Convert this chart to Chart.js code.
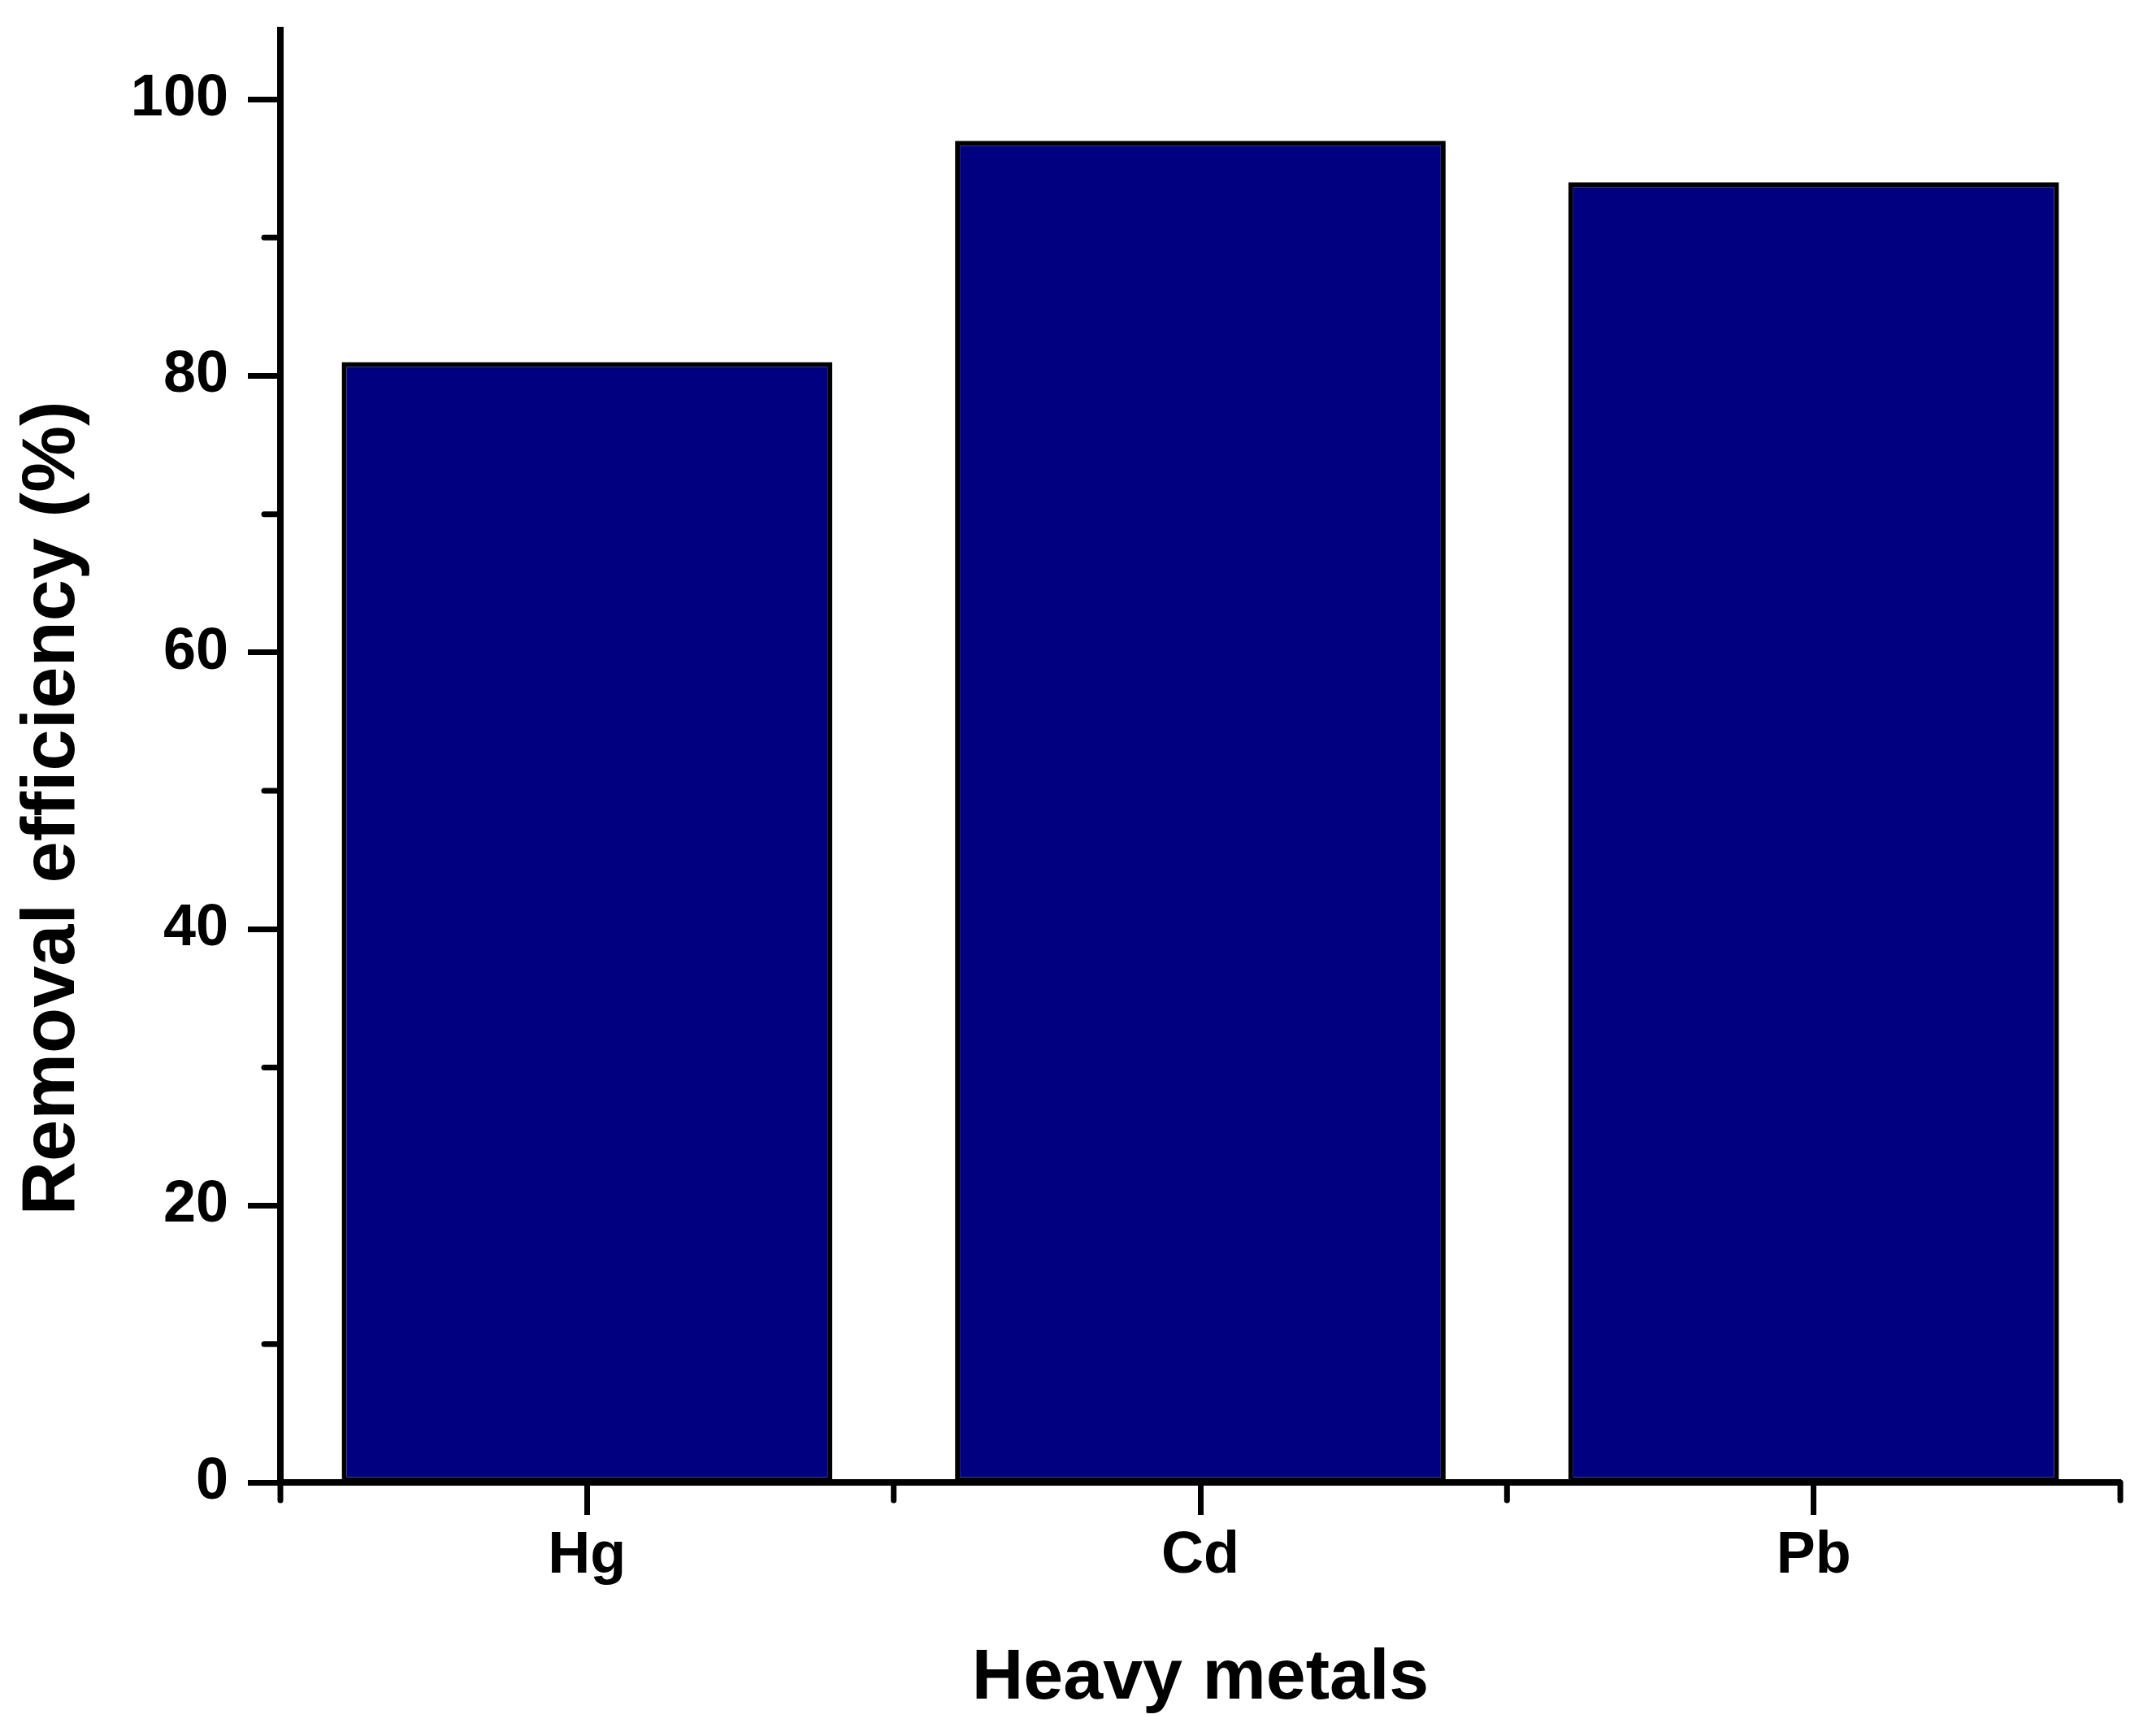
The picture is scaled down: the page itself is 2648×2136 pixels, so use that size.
<!DOCTYPE html>
<html>
<head>
<meta charset="utf-8">
<title>Removal efficiency</title>
<script src="https://cdn.jsdelivr.net/npm/chart.js@4.4.1/dist/chart.umd.min.js"></script>
<style>
    html, body { margin: 0; padding: 0; background: #ffffff; }
    #caja { width: 2648px; height: 2136px; }
</style>
</head>
<body>
<div id="caja"><canvas id="grafica" width="2648" height="2136"></canvas></div>
<script>
// Datos
const metales = ["Hg", "Cd", "Pb"];
const eficiencia = [81, 97, 94];
const ejeYMin = 0;
const ejeYMax = 105;
const pasoY = 20;

const fuente = "'Liberation Sans', Arial, sans-serif";

// Marcas menores (entre marcas mayores en Y, limites de categoria en X)
const marcasMenores = {
    id: "marcasMenores",
    afterDraw(chart) {
        const ctx = chart.ctx;
        const area = chart.chartArea;
        const y = chart.scales.y;
        const x = chart.scales.x;
        ctx.save();
        ctx.strokeStyle = "#000";
        ctx.lineWidth = 7;
        ctx.lineCap = "round";

        // Y: a la mitad entre cada par de marcas mayores
        for (let v = ejeYMin + pasoY / 2; v < ejeYMax; v += pasoY) {
            let py = y.getPixelForValue(v);
            ctx.beginPath();
            ctx.moveTo(area.left - 20, py);
            ctx.lineTo(area.left, py);
            ctx.stroke();
        }

        // X: limites entre categorias
        let limites = [area.left];
        for (let i = 0; i < metales.length - 1; i++) {
            limites.push((x.getPixelForTick(i) + x.getPixelForTick(i + 1)) / 2);
        }
        limites.push(area.right);
        limites.forEach(function (px) {
            ctx.beginPath();
            ctx.moveTo(px, area.bottom);
            ctx.lineTo(px, area.bottom + 22);
            ctx.stroke();
        });
        ctx.restore();
    }
};

let ctx = document.getElementById("grafica").getContext("2d");

let datos = {
    labels: metales,
    datasets: [{
        label: "Removal efficiency",
        data: eficiencia,
        backgroundColor: "#000080",
        borderColor: "#000000",
        borderWidth: 6,
        borderSkipped: false,
        barPercentage: 0.8,
        categoryPercentage: 1.0
    }]
};

let config = {
    type: "bar",
    data: datos,
    plugins: [marcasMenores],
    options: {
        responsive: false,
        devicePixelRatio: 1,
        animation: false,
        layout: { padding: { top: 37, right: 39, left: 0, bottom: 0 } },
        plugins: {
            legend: { display: false },
            tooltip: { enabled: false }
        },
        scales: {
            x: {
                offset: true,
                border: { display: true, color: "#000", width: 8 },
                grid: {
                    offset: false,
                    drawOnChartArea: false,
                    drawTicks: true,
                    tickLength: 40,
                    tickWidth: 7,
                    tickColor: "#000"
                },
                ticks: {
                    color: "#000",
                    padding: 8,
                    maxRotation: 0,
                    font: { family: fuente, size: 72, weight: "bold" }
                },
                title: {
                    display: true,
                    text: "Heavy metals",
                    color: "#000",
                    padding: { top: 0, bottom: 17 },
                    font: { family: fuente, size: 88, weight: "bold" }
                },
                afterFit: function (scale) {
                    scale.height = 312;
                    scale.paddingLeft = 0;
                    scale.paddingRight = 0;
                }
            },
            y: {
                min: ejeYMin,
                max: ejeYMax,
                border: { display: true, color: "#000", width: 8 },
                grid: {
                    drawOnChartArea: false,
                    drawTicks: true,
                    tickLength: 40,
                    tickWidth: 7,
                    tickColor: "#000"
                },
                ticks: {
                    stepSize: pasoY,
                    includeBounds: false,
                    color: "#000",
                    padding: 24,
                    font: { family: fuente, size: 72, weight: "bold" }
                },
                title: {
                    display: true,
                    text: "Removal efficiency (%)     ",
                    color: "#000",
                    padding: { top: 10, bottom: 0 },
                    font: { family: fuente, size: 92, weight: "bold" }
                },
                afterFit: function (scale) {
                    scale.width = 345;
                    scale.paddingTop = 0;
                    scale.paddingBottom = 0;
                }
            }
        }
    }
};

let grafica = new Chart(ctx, config);
</script>
</body>
</html>
